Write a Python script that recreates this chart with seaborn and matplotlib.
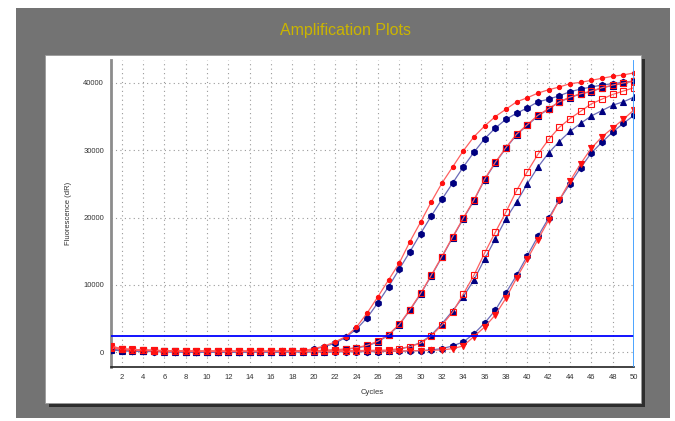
import matplotlib
matplotlib.use("Agg")
import matplotlib.pyplot as plt
from matplotlib.patches import Rectangle
import seaborn as sns
import pandas as pd

sns.set_style("white")
plt.rcParams["font.family"] = ["Liberation Sans", "DejaVu Sans"]

# qPCR amplification data: fluorescence (dR) per cycle for each well
cycles = list(range(1, 51))

red_dots = [700, 350, 300, 250, 200, 200, 150, 100, 100, 100,
            100, 100, 100, 100, 100, 100, 150, 150, 200, 500,
            900, 1500, 2300, 3700, 5800, 8200, 10700, 13200, 16400, 19300,
            22300, 25100, 27500, 29900, 32000, 33600, 35000, 36100, 37200, 37800,
            38500, 39000, 39400, 39900, 40100, 40400, 40700, 41000, 41200, 41500]

navy_hex_early = [300, 250, 200, 150, 100, 50, 50, 0, 0, 0,
                  0, 0, 0, 0, 50, 50, 100, 100, 200, 400,
                  800, 1300, 2200, 3400, 5100, 7300, 9700, 12300, 14900, 17600,
                  20200, 22700, 25100, 27500, 29700, 31700, 33300, 34600, 35500, 36300,
                  37200, 37600, 38100, 38700, 39100, 39400, 39700, 39900, 40100, 40300]

navy_squares = [400, 300, 250, 200, 150, 100, 100, 50, 50, 50,
                50, 50, 50, 50, 50, 50, 50, 100, 100, 150,
                200, 300, 400, 600, 900, 1500, 2500, 4000, 6200, 8600,
                11300, 14100, 17000, 19800, 22500, 25600, 28100, 30300, 32300, 33700,
                35100, 36100, 37200, 37800, 38400, 38700, 39300, 39600, 40000, 40300]

red_squares_mid = [600, 400, 300, 250, 200, 150, 100, 100, 100, 100,
                   100, 100, 100, 100, 100, 100, 100, 150, 150, 200,
                   250, 350, 450, 650, 1000, 1600, 2600, 4100, 6300, 8700,
                   11400, 14200, 17100, 19900, 22600, 25700, 28200, 30400, 32400, 33800,
                   35200, 36200, 37200, 37900, 38400, 38800, 39300, 39700, 40000, 40300]

red_squares_late = [800, 450, 350, 300, 250, 200, 200, 150, 150, 150,
                    150, 150, 150, 150, 150, 150, 150, 150, 150, 150,
                    150, 200, 200, 200, 250, 250, 300, 500, 800, 1300,
                    2400, 4000, 5900, 8600, 11400, 14700, 17800, 20800, 24000, 26800,
                    29400, 31600, 33400, 34700, 35800, 36900, 37600, 38300, 38800, 39300]

navy_triangles = [300, 200, 150, 100, 100, 50, 50, 50, 0, 0,
                  0, 0, 0, 0, 0, 0, 0, 50, 50, 50,
                  50, 100, 100, 100, 150, 150, 200, 400, 800, 1400,
                  2500, 4200, 6100, 8200, 10700, 13800, 16800, 19800, 22300, 25000,
                  27500, 29600, 31300, 32800, 34000, 35100, 35900, 36700, 37200, 37900]

navy_hex_late = [300, 200, 150, 100, 50, 50, 0, 0, 0, 0,
                 0, 0, 0, 0, 0, 0, 0, 0, 0, 0,
                 0, 0, 50, 50, 50, 50, 100, 100, 150, 200,
                 300, 500, 900, 1500, 2700, 4300, 6200, 8800, 11400, 14300,
                 17200, 19900, 22600, 25000, 27400, 29600, 31200, 32700, 34000, 35200]

red_tri_down = [900, 500, 400, 300, 250, 200, 200, 150, 150, 150,
                150, 100, 100, 100, 100, 100, 100, 100, 100, 100,
                100, 100, 100, 150, 150, 150, 150, 150, 200, 200,
                250, 300, 500, 900, 2300, 3700, 5500, 8000, 11000, 13800,
                16700, 19600, 22600, 25400, 28000, 30300, 32000, 33300, 34600, 36000]

threshold = 2400
title = "Amplification Plots"
x_label = "Cycles"
y_label = "Fluorescence (dR)"

NAVY = "#000080"
NAVY_LINE = "#6a6ab8"
RED = "#ff1010"
RED_LINE = "#ff6060"

# (values, marker, face, edge, line colour, size) — navy wells first, red drawn over them
wells = [
    (navy_hex_early, "h", NAVY, NAVY, NAVY_LINE, 4.6),
    (navy_squares, "s", NAVY, NAVY, NAVY_LINE, 4.0),
    (navy_triangles, "^", NAVY, NAVY, NAVY_LINE, 4.2),
    (navy_hex_late, "h", NAVY, NAVY, NAVY_LINE, 4.6),
    (red_dots, "o", RED, RED, RED_LINE, 3.0),
    (red_squares_mid, "s", "none", RED, RED_LINE, 4.2),
    (red_squares_late, "s", "none", RED, RED_LINE, 4.2),
    (red_tri_down, "v", RED, RED, RED_LINE, 4.6),
]

W, H = 675, 421
fig = plt.figure(figsize=(W / 100, H / 100), dpi=100, facecolor="white")

def fig_rect(x0, y0, x1, y1, **kw):
    fig.add_artist(Rectangle((x0 / W, 1 - y1 / H), (x1 - x0) / W, (y1 - y0) / H,
                             transform=fig.transFigure, **kw))

# gray frame, panel shadow and white panel
fig_rect(16, 8, 670, 418, facecolor="#737373", edgecolor="none", zorder=0)
fig_rect(49, 59, 645, 407, facecolor="#2e2e2e", edgecolor="none", zorder=0)
fig_rect(45, 55, 641, 403, facecolor="white", edgecolor="#9a9a9a", linewidth=0.6, zorder=0)

fig.text(345 / W, 1 - 31 / H, title, ha="center", va="center",
         fontsize=11.5, color="#cbb500")

ax = fig.add_axes([111 / W, 1 - 367 / H, (634 - 111) / W, (367 - 60) / H])
ax.set_facecolor("white")
ax.patch.set_alpha(0)

for vals, mk, face, edge, lc, ms in wells:
    df = pd.DataFrame({"cycle": cycles, "dR": vals})
    sns.lineplot(data=df, x="cycle", y="dR", ax=ax, color=lc, linewidth=0.9,
                 marker=mk, markerfacecolor=face, markeredgecolor=edge,
                 markeredgewidth=0.8, markersize=ms, zorder=3)

ax.axhline(threshold, color="#0000ff", linewidth=1.3, zorder=4)
ax.axvline(cycles[-1], color="#3a9cff", linewidth=2.0, zorder=4)

ax.set_xlim(1, 50)
ax.set_ylim(-2230, 43420)

ax.set_xticks(list(range(2, 51, 2)))
ax.set_xticks(cycles, minor=True)
ax.set_yticks([0, 10000, 20000, 30000, 40000])
ax.set_yticks([5000, 15000, 25000, 35000], minor=True)
ax.tick_params(axis="both", which="major", labelsize=5.5, labelcolor="#333333",
               length=3, width=0.8, color="#333333", pad=2)
ax.tick_params(axis="both", which="minor", length=2.5, width=0.7, color="#333333")
ax.tick_params(axis="x", which="both", direction="out")

ax.grid(True, which="major", linestyle=(0, (1, 3)), color="#9a9a9a", linewidth=0.8)
ax.set_axisbelow(True)

for side in ["top", "right"]:
    ax.spines[side].set_visible(False)
ax.spines["left"].set_color("#8c8c8c")
ax.spines["left"].set_linewidth(2.0)
ax.spines["bottom"].set_color("#222222")
ax.spines["bottom"].set_linewidth(1.2)

ax.set_xlabel(x_label, fontsize=5.5, color="#333333", labelpad=6)
ax.set_ylabel(y_label, fontsize=5.5, color="#333333", labelpad=8)

fig.savefig("out.png", dpi=100, facecolor=fig.get_facecolor())
